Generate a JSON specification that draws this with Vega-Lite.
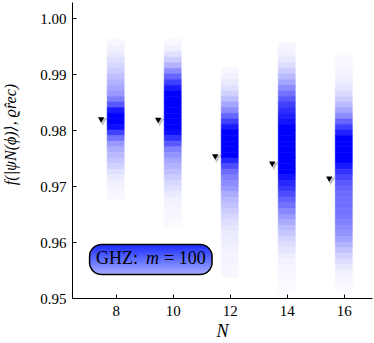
{
  "$schema": "https://vega.github.io/schema/vega-lite/v6.json",
  "width": 300,
  "height": 296,
  "autosize": {"type": "none"},
  "padding": {"left": 72, "top": 2, "right": 2, "bottom": 45},
  "background": "white",
  "config": {
    "view": {"stroke": null},
    "font": "Liberation Serif, DejaVu Serif, serif",
    "axis": {
      "grid": false,
      "domainColor": "#000000",
      "domainWidth": 1,
      "tickColor": "#000000",
      "tickWidth": 1,
      "labelColor": "#000000",
      "labelFont": "Liberation Serif, DejaVu Serif, serif",
      "labelFontSize": 15,
      "titleFont": "Liberation Serif, DejaVu Serif, serif",
      "titleFontWeight": "normal",
      "titleFontStyle": "italic",
      "titleColor": "#000000"
    }
  },
  "datasets": {
    "strips": [
      {"N": 8, "lo": 0.995, "hi": 0.9962, "d": 0.03},
      {"N": 8, "lo": 0.994, "hi": 0.995, "d": 0.05},
      {"N": 8, "lo": 0.993, "hi": 0.994, "d": 0.08},
      {"N": 8, "lo": 0.992, "hi": 0.993, "d": 0.12},
      {"N": 8, "lo": 0.991, "hi": 0.992, "d": 0.16},
      {"N": 8, "lo": 0.990, "hi": 0.991, "d": 0.2},
      {"N": 8, "lo": 0.989, "hi": 0.990, "d": 0.25},
      {"N": 8, "lo": 0.988, "hi": 0.989, "d": 0.3},
      {"N": 8, "lo": 0.987, "hi": 0.988, "d": 0.35},
      {"N": 8, "lo": 0.986, "hi": 0.987, "d": 0.4},
      {"N": 8, "lo": 0.985, "hi": 0.986, "d": 0.5},
      {"N": 8, "lo": 0.984, "hi": 0.985, "d": 0.65},
      {"N": 8, "lo": 0.983, "hi": 0.984, "d": 0.9},
      {"N": 8, "lo": 0.982, "hi": 0.983, "d": 1},
      {"N": 8, "lo": 0.981, "hi": 0.982, "d": 1},
      {"N": 8, "lo": 0.980, "hi": 0.981, "d": 0.95},
      {"N": 8, "lo": 0.979, "hi": 0.980, "d": 0.75},
      {"N": 8, "lo": 0.978, "hi": 0.979, "d": 0.55},
      {"N": 8, "lo": 0.977, "hi": 0.978, "d": 0.4},
      {"N": 8, "lo": 0.976, "hi": 0.977, "d": 0.32},
      {"N": 8, "lo": 0.975, "hi": 0.976, "d": 0.27},
      {"N": 8, "lo": 0.974, "hi": 0.975, "d": 0.23},
      {"N": 8, "lo": 0.973, "hi": 0.974, "d": 0.18},
      {"N": 8, "lo": 0.972, "hi": 0.973, "d": 0.12},
      {"N": 8, "lo": 0.971, "hi": 0.972, "d": 0.08},
      {"N": 8, "lo": 0.970, "hi": 0.971, "d": 0.06},
      {"N": 8, "lo": 0.969, "hi": 0.970, "d": 0.04},
      {"N": 8, "lo": 0.968, "hi": 0.969, "d": 0.03},
      {"N": 8, "lo": 0.9675, "hi": 0.968, "d": 0.02},

      {"N": 10, "lo": 0.995, "hi": 0.9962, "d": 0.03},
      {"N": 10, "lo": 0.994, "hi": 0.995, "d": 0.06},
      {"N": 10, "lo": 0.993, "hi": 0.994, "d": 0.12},
      {"N": 10, "lo": 0.992, "hi": 0.993, "d": 0.2},
      {"N": 10, "lo": 0.991, "hi": 0.992, "d": 0.3},
      {"N": 10, "lo": 0.990, "hi": 0.991, "d": 0.45},
      {"N": 10, "lo": 0.989, "hi": 0.990, "d": 0.6},
      {"N": 10, "lo": 0.988, "hi": 0.989, "d": 0.75},
      {"N": 10, "lo": 0.987, "hi": 0.988, "d": 0.9},
      {"N": 10, "lo": 0.986, "hi": 0.987, "d": 1},
      {"N": 10, "lo": 0.985, "hi": 0.986, "d": 1},
      {"N": 10, "lo": 0.984, "hi": 0.985, "d": 1},
      {"N": 10, "lo": 0.983, "hi": 0.984, "d": 1},
      {"N": 10, "lo": 0.982, "hi": 0.983, "d": 1},
      {"N": 10, "lo": 0.981, "hi": 0.982, "d": 1},
      {"N": 10, "lo": 0.980, "hi": 0.981, "d": 1},
      {"N": 10, "lo": 0.979, "hi": 0.980, "d": 0.95},
      {"N": 10, "lo": 0.978, "hi": 0.979, "d": 0.8},
      {"N": 10, "lo": 0.977, "hi": 0.978, "d": 0.65},
      {"N": 10, "lo": 0.976, "hi": 0.977, "d": 0.5},
      {"N": 10, "lo": 0.975, "hi": 0.976, "d": 0.42},
      {"N": 10, "lo": 0.974, "hi": 0.975, "d": 0.35},
      {"N": 10, "lo": 0.973, "hi": 0.974, "d": 0.3},
      {"N": 10, "lo": 0.972, "hi": 0.973, "d": 0.25},
      {"N": 10, "lo": 0.971, "hi": 0.972, "d": 0.2},
      {"N": 10, "lo": 0.970, "hi": 0.971, "d": 0.15},
      {"N": 10, "lo": 0.969, "hi": 0.970, "d": 0.12},
      {"N": 10, "lo": 0.968, "hi": 0.969, "d": 0.08},
      {"N": 10, "lo": 0.967, "hi": 0.968, "d": 0.05},
      {"N": 10, "lo": 0.966, "hi": 0.967, "d": 0.04},
      {"N": 10, "lo": 0.965, "hi": 0.966, "d": 0.03},
      {"N": 10, "lo": 0.964, "hi": 0.965, "d": 0.03},
      {"N": 10, "lo": 0.9627, "hi": 0.964, "d": 0.02},

      {"N": 12, "lo": 0.990, "hi": 0.9912, "d": 0.03},
      {"N": 12, "lo": 0.989, "hi": 0.990, "d": 0.05},
      {"N": 12, "lo": 0.988, "hi": 0.989, "d": 0.08},
      {"N": 12, "lo": 0.987, "hi": 0.988, "d": 0.12},
      {"N": 12, "lo": 0.986, "hi": 0.987, "d": 0.18},
      {"N": 12, "lo": 0.985, "hi": 0.986, "d": 0.25},
      {"N": 12, "lo": 0.984, "hi": 0.985, "d": 0.35},
      {"N": 12, "lo": 0.983, "hi": 0.984, "d": 0.45},
      {"N": 12, "lo": 0.982, "hi": 0.983, "d": 0.6},
      {"N": 12, "lo": 0.981, "hi": 0.982, "d": 0.75},
      {"N": 12, "lo": 0.980, "hi": 0.981, "d": 0.9},
      {"N": 12, "lo": 0.979, "hi": 0.980, "d": 1},
      {"N": 12, "lo": 0.978, "hi": 0.979, "d": 1},
      {"N": 12, "lo": 0.977, "hi": 0.978, "d": 1},
      {"N": 12, "lo": 0.976, "hi": 0.977, "d": 1},
      {"N": 12, "lo": 0.975, "hi": 0.976, "d": 1},
      {"N": 12, "lo": 0.974, "hi": 0.975, "d": 0.85},
      {"N": 12, "lo": 0.973, "hi": 0.974, "d": 0.7},
      {"N": 12, "lo": 0.972, "hi": 0.973, "d": 0.58},
      {"N": 12, "lo": 0.971, "hi": 0.972, "d": 0.5},
      {"N": 12, "lo": 0.970, "hi": 0.971, "d": 0.45},
      {"N": 12, "lo": 0.969, "hi": 0.970, "d": 0.4},
      {"N": 12, "lo": 0.968, "hi": 0.969, "d": 0.33},
      {"N": 12, "lo": 0.967, "hi": 0.968, "d": 0.28},
      {"N": 12, "lo": 0.966, "hi": 0.967, "d": 0.24},
      {"N": 12, "lo": 0.965, "hi": 0.966, "d": 0.2},
      {"N": 12, "lo": 0.964, "hi": 0.965, "d": 0.16},
      {"N": 12, "lo": 0.963, "hi": 0.964, "d": 0.13},
      {"N": 12, "lo": 0.962, "hi": 0.963, "d": 0.1},
      {"N": 12, "lo": 0.961, "hi": 0.962, "d": 0.08},
      {"N": 12, "lo": 0.960, "hi": 0.961, "d": 0.07},
      {"N": 12, "lo": 0.959, "hi": 0.960, "d": 0.06},
      {"N": 12, "lo": 0.958, "hi": 0.959, "d": 0.05},
      {"N": 12, "lo": 0.957, "hi": 0.958, "d": 0.04},
      {"N": 12, "lo": 0.956, "hi": 0.957, "d": 0.04},
      {"N": 12, "lo": 0.955, "hi": 0.956, "d": 0.03},
      {"N": 12, "lo": 0.9537, "hi": 0.955, "d": 0.03},

      {"N": 14, "lo": 0.995, "hi": 0.9957, "d": 0.03},
      {"N": 14, "lo": 0.994, "hi": 0.995, "d": 0.04},
      {"N": 14, "lo": 0.993, "hi": 0.994, "d": 0.06},
      {"N": 14, "lo": 0.992, "hi": 0.993, "d": 0.09},
      {"N": 14, "lo": 0.991, "hi": 0.992, "d": 0.13},
      {"N": 14, "lo": 0.990, "hi": 0.991, "d": 0.2},
      {"N": 14, "lo": 0.989, "hi": 0.990, "d": 0.27},
      {"N": 14, "lo": 0.988, "hi": 0.989, "d": 0.35},
      {"N": 14, "lo": 0.987, "hi": 0.988, "d": 0.45},
      {"N": 14, "lo": 0.986, "hi": 0.987, "d": 0.55},
      {"N": 14, "lo": 0.985, "hi": 0.986, "d": 0.65},
      {"N": 14, "lo": 0.984, "hi": 0.985, "d": 0.75},
      {"N": 14, "lo": 0.983, "hi": 0.984, "d": 0.82},
      {"N": 14, "lo": 0.982, "hi": 0.983, "d": 0.88},
      {"N": 14, "lo": 0.981, "hi": 0.982, "d": 0.93},
      {"N": 14, "lo": 0.980, "hi": 0.981, "d": 1},
      {"N": 14, "lo": 0.979, "hi": 0.980, "d": 1},
      {"N": 14, "lo": 0.978, "hi": 0.979, "d": 1},
      {"N": 14, "lo": 0.977, "hi": 0.978, "d": 1},
      {"N": 14, "lo": 0.976, "hi": 0.977, "d": 1},
      {"N": 14, "lo": 0.975, "hi": 0.976, "d": 1},
      {"N": 14, "lo": 0.974, "hi": 0.975, "d": 1},
      {"N": 14, "lo": 0.973, "hi": 0.974, "d": 1},
      {"N": 14, "lo": 0.972, "hi": 0.973, "d": 1},
      {"N": 14, "lo": 0.971, "hi": 0.972, "d": 0.92},
      {"N": 14, "lo": 0.970, "hi": 0.971, "d": 0.85},
      {"N": 14, "lo": 0.969, "hi": 0.970, "d": 0.78},
      {"N": 14, "lo": 0.968, "hi": 0.969, "d": 0.7},
      {"N": 14, "lo": 0.967, "hi": 0.968, "d": 0.62},
      {"N": 14, "lo": 0.966, "hi": 0.967, "d": 0.55},
      {"N": 14, "lo": 0.965, "hi": 0.966, "d": 0.47},
      {"N": 14, "lo": 0.964, "hi": 0.965, "d": 0.4},
      {"N": 14, "lo": 0.963, "hi": 0.964, "d": 0.33},
      {"N": 14, "lo": 0.962, "hi": 0.963, "d": 0.27},
      {"N": 14, "lo": 0.961, "hi": 0.962, "d": 0.22},
      {"N": 14, "lo": 0.960, "hi": 0.961, "d": 0.17},
      {"N": 14, "lo": 0.959, "hi": 0.960, "d": 0.13},
      {"N": 14, "lo": 0.958, "hi": 0.959, "d": 0.1},
      {"N": 14, "lo": 0.957, "hi": 0.958, "d": 0.07},
      {"N": 14, "lo": 0.956, "hi": 0.957, "d": 0.05},
      {"N": 14, "lo": 0.955, "hi": 0.956, "d": 0.04},
      {"N": 14, "lo": 0.954, "hi": 0.955, "d": 0.03},
      {"N": 14, "lo": 0.953, "hi": 0.954, "d": 0.03},
      {"N": 14, "lo": 0.952, "hi": 0.953, "d": 0.02},
      {"N": 14, "lo": 0.951, "hi": 0.952, "d": 0.02},

      {"N": 16, "lo": 0.993, "hi": 0.9939, "d": 0.02},
      {"N": 16, "lo": 0.992, "hi": 0.993, "d": 0.03},
      {"N": 16, "lo": 0.991, "hi": 0.992, "d": 0.03},
      {"N": 16, "lo": 0.990, "hi": 0.991, "d": 0.04},
      {"N": 16, "lo": 0.989, "hi": 0.990, "d": 0.05},
      {"N": 16, "lo": 0.988, "hi": 0.989, "d": 0.07},
      {"N": 16, "lo": 0.987, "hi": 0.988, "d": 0.1},
      {"N": 16, "lo": 0.986, "hi": 0.987, "d": 0.14},
      {"N": 16, "lo": 0.985, "hi": 0.986, "d": 0.2},
      {"N": 16, "lo": 0.984, "hi": 0.985, "d": 0.27},
      {"N": 16, "lo": 0.983, "hi": 0.984, "d": 0.35},
      {"N": 16, "lo": 0.982, "hi": 0.983, "d": 0.45},
      {"N": 16, "lo": 0.981, "hi": 0.982, "d": 0.6},
      {"N": 16, "lo": 0.980, "hi": 0.981, "d": 0.75},
      {"N": 16, "lo": 0.979, "hi": 0.980, "d": 0.88},
      {"N": 16, "lo": 0.978, "hi": 0.979, "d": 1},
      {"N": 16, "lo": 0.977, "hi": 0.978, "d": 1},
      {"N": 16, "lo": 0.976, "hi": 0.977, "d": 1},
      {"N": 16, "lo": 0.975, "hi": 0.976, "d": 1},
      {"N": 16, "lo": 0.974, "hi": 0.975, "d": 1},
      {"N": 16, "lo": 0.973, "hi": 0.974, "d": 0.9},
      {"N": 16, "lo": 0.972, "hi": 0.973, "d": 0.8},
      {"N": 16, "lo": 0.971, "hi": 0.972, "d": 0.72},
      {"N": 16, "lo": 0.970, "hi": 0.971, "d": 0.65},
      {"N": 16, "lo": 0.969, "hi": 0.970, "d": 0.6},
      {"N": 16, "lo": 0.968, "hi": 0.969, "d": 0.58},
      {"N": 16, "lo": 0.967, "hi": 0.968, "d": 0.57},
      {"N": 16, "lo": 0.966, "hi": 0.967, "d": 0.56},
      {"N": 16, "lo": 0.965, "hi": 0.966, "d": 0.55},
      {"N": 16, "lo": 0.964, "hi": 0.965, "d": 0.53},
      {"N": 16, "lo": 0.963, "hi": 0.964, "d": 0.5},
      {"N": 16, "lo": 0.962, "hi": 0.963, "d": 0.46},
      {"N": 16, "lo": 0.961, "hi": 0.962, "d": 0.42},
      {"N": 16, "lo": 0.960, "hi": 0.961, "d": 0.36},
      {"N": 16, "lo": 0.959, "hi": 0.960, "d": 0.3},
      {"N": 16, "lo": 0.958, "hi": 0.959, "d": 0.24},
      {"N": 16, "lo": 0.957, "hi": 0.958, "d": 0.18},
      {"N": 16, "lo": 0.956, "hi": 0.957, "d": 0.13},
      {"N": 16, "lo": 0.955, "hi": 0.956, "d": 0.09},
      {"N": 16, "lo": 0.954, "hi": 0.955, "d": 0.06},
      {"N": 16, "lo": 0.953, "hi": 0.954, "d": 0.04},
      {"N": 16, "lo": 0.952, "hi": 0.953, "d": 0.03},
      {"N": 16, "lo": 0.951, "hi": 0.952, "d": 0.02}
    ],
    "markers": [
      {"N": 8, "f": 0.9818},
      {"N": 10, "f": 0.9817},
      {"N": 12, "f": 0.9752},
      {"N": 14, "f": 0.9739},
      {"N": 16, "f": 0.9712}
    ]
  },
  "layer": [
    {
      "data": {"name": "strips"},
      "mark": {"type": "bar", "size": 17, "strokeWidth": 0.6},
      "encoding": {
        "x": {
          "field": "N", "type": "quantitative",
          "scale": {"domain": [6.644, 16.814], "nice": false, "zero": false},
          "axis": {"values": [8, 10, 12, 14, 16], "format": "d", "tickSize": -4, "labelPadding": 9, "title": "N", "titleFontSize": 18, "titlePadding": 4}
        },
        "y": {
          "field": "lo", "type": "quantitative",
          "scale": {"domain": [0.95, 1.00286], "nice": false, "zero": false},
          "axis": {
            "values": [0.95, 0.955, 0.96, 0.965, 0.97, 0.975, 0.98, 0.985, 0.99, 0.995, 1.0],
            "labelExpr": "(round(datum.value*1000) % 10 == 0) ? format(datum.value, '.2f') : ''",
            "tickSize": -4, "labelPadding": 10,
            "title": "f(|ψN(ϕ)⟩, ϱ̂rec)", "titleFontSize": 16,
            "titleAngle": 270, "titleAlign": "center", "titleBaseline": "bottom",
            "titleX": -54, "titleY": 132
          }
        },
        "y2": {"field": "hi"},
        "fill": {"field": "d", "type": "quantitative", "scale": {"domain": [0, 1], "range": ["#ffffff", "#0000ff"], "interpolate": "rgb"}, "legend": null},
        "stroke": {"field": "d", "type": "quantitative", "scale": {"domain": [0, 1], "range": ["#ffffff", "#0000ff"], "interpolate": "rgb"}, "legend": null}
      }
    },
    {
      "data": {"name": "markers"},
      "mark": {"type": "point", "shape": "triangle-down", "filled": true, "color": "#555555", "opacity": 0.35, "size": 80, "xOffset": -13, "yOffset": 2},
      "encoding": {
        "x": {"field": "N", "type": "quantitative"},
        "y": {"field": "f", "type": "quantitative"}
      }
    },
    {
      "data": {"name": "markers"},
      "mark": {"type": "point", "shape": "triangle-down", "filled": true, "color": "#000000", "opacity": 1, "size": 40, "xOffset": -14.5},
      "encoding": {
        "x": {"field": "N", "type": "quantitative"},
        "y": {"field": "f", "type": "quantitative"}
      }
    },
    {
      "data": {"values": [{}]},
      "mark": {"type": "rect", "cornerRadius": 12, "fill": "#000000", "opacity": 0.15, "xOffset": 5, "yOffset": 5},
      "encoding": {
        "x": {"datum": 7.085, "type": "quantitative"},
        "x2": {"datum": 11.38},
        "y": {"datum": 0.95957, "type": "quantitative"},
        "y2": {"datum": 0.95421}
      }
    },
    {
      "data": {"values": [{}]},
      "mark": {"type": "rect", "cornerRadius": 12, "fill": "#000000", "opacity": 0.35, "xOffset": 3, "yOffset": 3},
      "encoding": {
        "x": {"datum": 7.085, "type": "quantitative"},
        "x2": {"datum": 11.38},
        "y": {"datum": 0.95957, "type": "quantitative"},
        "y2": {"datum": 0.95421}
      }
    },
    {
      "data": {"values": [{}]},
      "mark": {
        "type": "rect", "cornerRadius": 12, "stroke": "#000000", "strokeWidth": 1.5,
        "fill": {"gradient": "linear", "x1": 0, "y1": 0, "x2": 0, "y2": 1,
          "stops": [{"offset": 0, "color": "#1a2aff"}, {"offset": 0.5, "color": "#5e6cff"}, {"offset": 1, "color": "#a6aeff"}]}
      },
      "encoding": {
        "x": {"datum": 7.085, "type": "quantitative"},
        "x2": {"datum": 11.38},
        "y": {"datum": 0.95957, "type": "quantitative"},
        "y2": {"datum": 0.95421}
      }
    },
    {
      "data": {"values": [{}]},
      "mark": {"type": "text", "text": "GHZ:", "font": "Liberation Serif, DejaVu Serif, serif", "fontSize": 18, "align": "left", "baseline": "middle", "color": "#000000"},
      "encoding": {
        "x": {"datum": 7.312, "type": "quantitative"},
        "y": {"datum": 0.9569, "type": "quantitative"}
      }
    },
    {
      "data": {"values": [{}]},
      "mark": {"type": "text", "text": "m", "font": "Liberation Serif, DejaVu Serif, serif", "fontSize": 18, "fontStyle": "italic", "align": "left", "baseline": "middle", "color": "#000000", "dx": 50},
      "encoding": {
        "x": {"datum": 7.312, "type": "quantitative"},
        "y": {"datum": 0.9569, "type": "quantitative"}
      }
    },
    {
      "data": {"values": [{}]},
      "mark": {"type": "text", "text": "= 100", "font": "Liberation Serif, DejaVu Serif, serif", "fontSize": 18, "align": "left", "baseline": "middle", "color": "#000000", "dx": 68},
      "encoding": {
        "x": {"datum": 7.312, "type": "quantitative"},
        "y": {"datum": 0.9569, "type": "quantitative"}
      }
    }
  ]
}
